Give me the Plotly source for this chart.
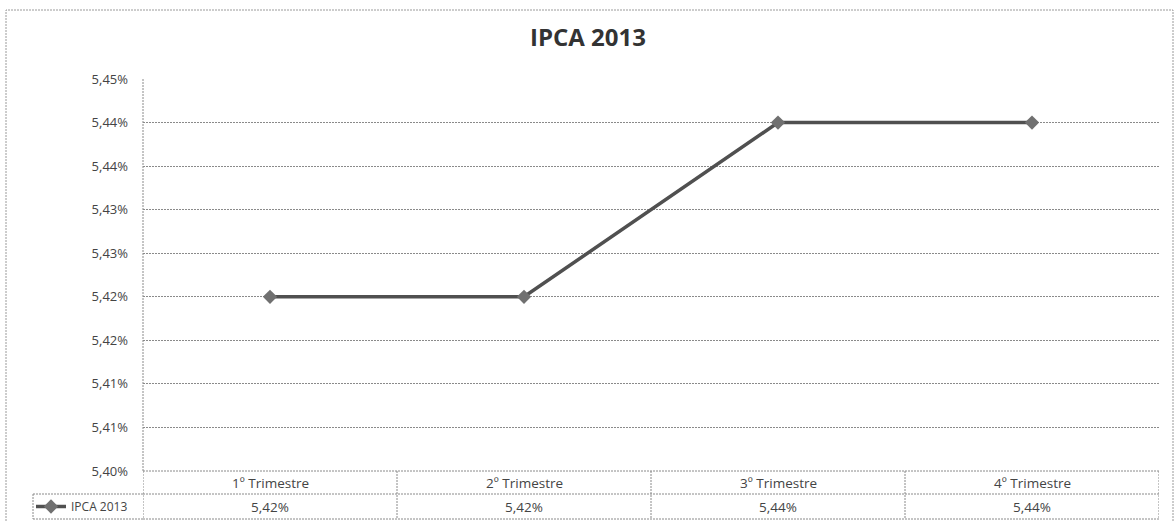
import plotly.graph_objects as go

categories = ["1º Trimestre", "2º Trimestre", "3º Trimestre", "4º Trimestre"]
ipca_values = [5.420, 5.420, 5.440, 5.440]
value_labels = ["5,42%", "5,42%", "5,44%", "5,44%"]
series_name = "IPCA 2013"
tick_values = [5.400, 5.405, 5.410, 5.415, 5.420, 5.425, 5.430, 5.435, 5.440, 5.445]
tick_labels = ["5,40%", "5,41%", "5,41%", "5,42%", "5,42%", "5,43%", "5,43%", "5,44%", "5,44%", "5,45%"]

W, H = 1176, 522
def px(x):
    return x / W
def py(y):
    return (H - y) / H

FONT = "Open Sans"
GRID = "#8a8a8a"
TXT = "#444444"
DOTS = "2px,1px"

fig = go.Figure()
fig.add_trace(go.Scatter(
    x=list(range(len(categories))), y=ipca_values, name=series_name,
    mode="lines+markers",
    line=dict(color="#505050", width=3.5),
    marker=dict(symbol="diamond", size=11, color="#707070"),
    showlegend=True,
))

plot_left, plot_right, plot_top, plot_bottom = 143, 1159, 79, 471
row1, row2 = 494, 519

fig.update_layout(
    width=W, height=H,
    margin=dict(l=0, r=0, t=0, b=0, autoexpand=False),
    paper_bgcolor="white", plot_bgcolor="white",
    font=dict(family=FONT, color=TXT, size=13),
    title=dict(text="<b>IPCA 2013</b>", x=0.5, xanchor="center",
               y=py(38), yanchor="middle",
               font=dict(family=FONT, size=24, color="#333333")),
    xaxis=dict(domain=[px(plot_left), px(plot_right)], range=[-0.5, len(categories) - 0.5],
               showticklabels=False, showgrid=False, zeroline=False,
               showline=False, ticks=""),
    yaxis=dict(domain=[py(plot_bottom), py(plot_top)], range=[tick_values[0], tick_values[-1]],
               tickvals=tick_values, ticktext=tick_labels, ticks="",
               ticklabelstandoff=14,
               tickfont=dict(family=FONT, size=13, color=TXT),
               showgrid=True, gridcolor=GRID, griddash=DOTS, gridwidth=1,
               zeroline=False, showline=False),
    legend=dict(x=px(31), y=py(row1 + 12.5), xanchor="left", yanchor="middle",
                bgcolor="rgba(0,0,0,0)", font=dict(size=12, color=TXT),
                itemwidth=30, tracegroupgap=0),
)

shapes = []
dot = dict(color=GRID, width=1, dash=DOTS)
# outer chart border
shapes.append(dict(type="rect", xref="paper", yref="paper", x0=px(6), x1=px(1173),
                   y0=py(530), y1=py(10), line=dict(color="#9a9a9a", width=1, dash=DOTS)))
# y axis line
shapes.append(dict(type="line", xref="paper", yref="paper", x0=px(plot_left), x1=px(plot_left),
                   y0=py(plot_bottom), y1=py(plot_top), line=dot))
# table horizontal lines
for yy in (plot_bottom, row1, row2):
    shapes.append(dict(type="line", xref="x", yref="paper", x0=-0.5, x1=len(categories) - 0.5,
                       y0=py(yy), y1=py(yy), line=dot))
# legend cell lines
for yy in (row1, row2):
    shapes.append(dict(type="line", xref="paper", yref="paper", x0=px(33), x1=px(plot_left),
                       y0=py(yy), y1=py(yy), line=dot))
shapes.append(dict(type="line", xref="paper", yref="paper", x0=px(33), x1=px(33),
                   y0=py(row1), y1=py(row2), line=dot))
# column dividers
for i in range(len(categories) + 1):
    shapes.append(dict(type="line", xref="x", yref="paper", x0=i - 0.5, x1=i - 0.5,
                       y0=py(plot_bottom), y1=py(row2), line=dot))
fig.update_layout(shapes=shapes)

annotations = []
for i, (c, v) in enumerate(zip(categories, value_labels)):
    annotations.append(dict(x=i, y=py((plot_bottom + row1) / 2), xref="x", yref="paper",
                            text=c, showarrow=False, font=dict(size=13.5, color=TXT),
                            xanchor="center", yanchor="middle"))
    annotations.append(dict(x=i, y=py((row1 + row2) / 2), xref="x", yref="paper",
                            text=v, showarrow=False, font=dict(size=13.5, color=TXT),
                            xanchor="center", yanchor="middle"))
fig.update_layout(annotations=annotations)

fig.write_html("out.html", config={"displayModeBar": False},
               post_script="document.body.style.margin='0px';")
